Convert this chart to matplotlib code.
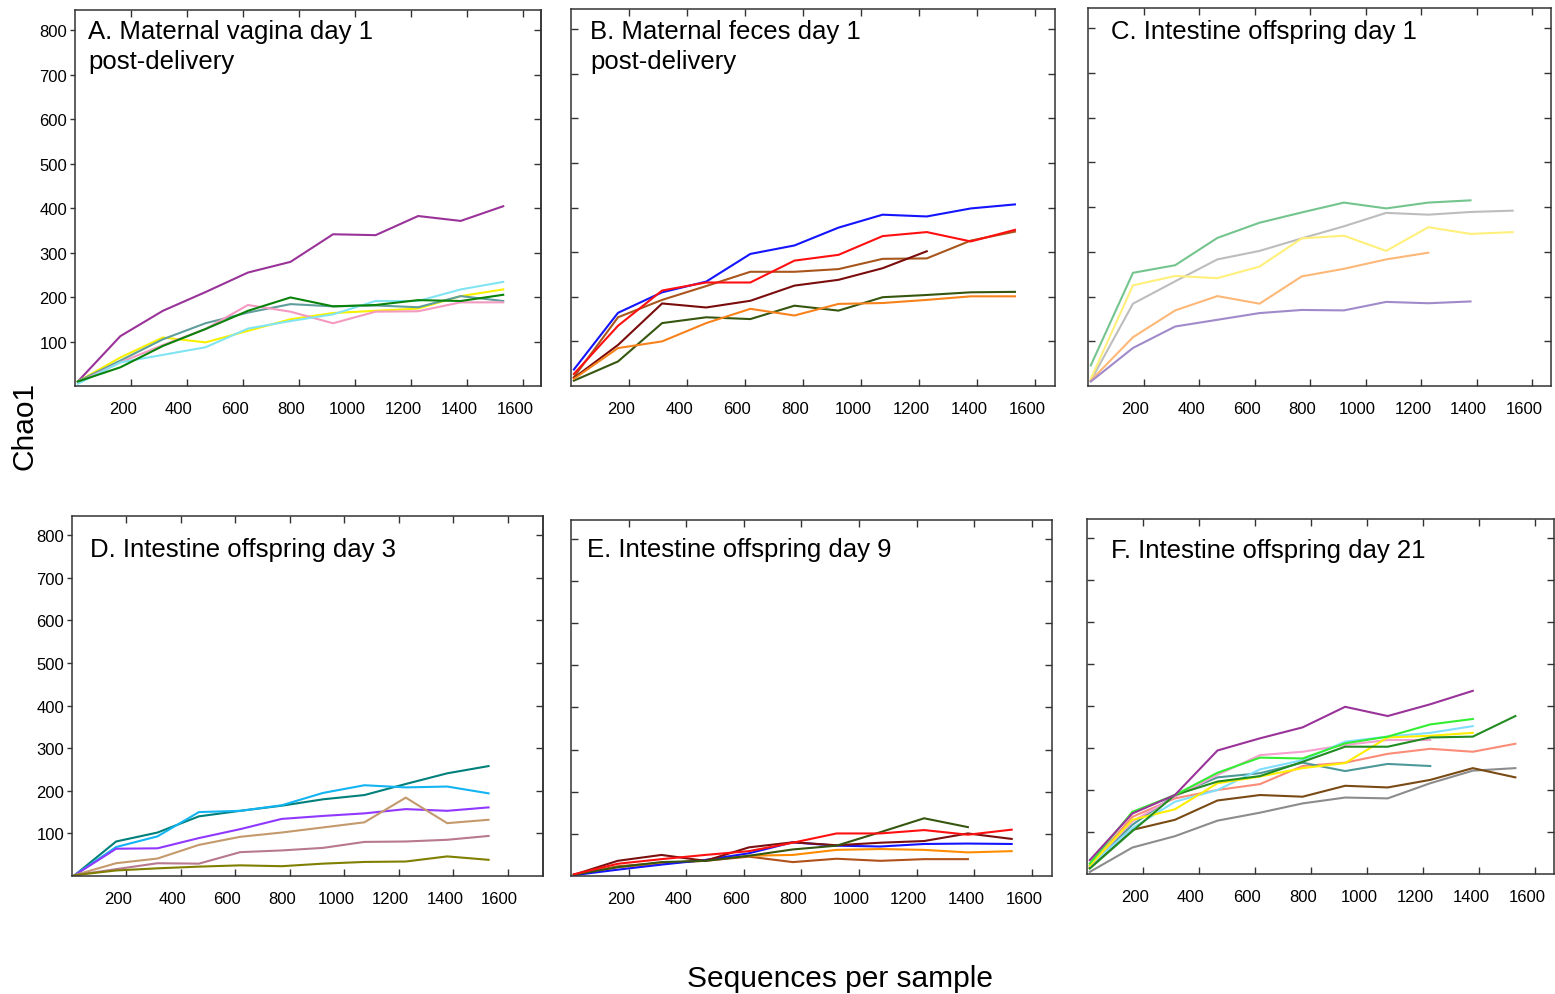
import matplotlib
matplotlib.use('Agg')
from matplotlib import pyplot as plt
from matplotlib.transforms import ScaledTranslation

plt.rcParams['font.family'] = ['Liberation Sans', 'DejaVu Sans']

W, H = 1555, 995

depths = [10, 162, 314, 466, 618, 770, 922, 1074, 1226, 1378, 1530]
xticks = [200, 400, 600, 800, 1000, 1200, 1400, 1600]
yticks = [100, 200, 300, 400, 500, 600, 700, 800]

# A. maternal vagina, day 1 post-delivery
vagina_d1 = [
    [10, 112, 169, 211, 255, 279, 341, 339, 382, 371, 404],
    [10, 64, 109, 98, 124, 150, 164, 169, 174, 202, 217],
    [10, 57, 105, 141, 165, 184, 179, 181, 177, 202, 191],
    [8, 53, 92, 128, 182, 167, 141, 167, 168, 188, 188],
    [5, 53, 70, 87, 129, 146, 161, 191, 191, 217, 234],
    [10, 42, 90, 128, 169, 199, 179, 182, 193, 191, 205],
]
vagina_colors = ['#993399', '#f7f100', '#5f9e9c', '#f49ac1', '#80e4f2', '#0a830a']

# B. maternal feces, day 1 post-delivery
feces_d1 = [
    [37, 164, 210, 234, 296, 315, 355, 384, 380, 398, 407],
    [20, 154, 193, 224, 256, 256, 262, 285, 286, 326, 346],
    [18, 92, 185, 176, 191, 225, 238, 264, 302],
    [12, 55, 141, 154, 150, 180, 169, 199, 204, 210, 211],
    [16, 85, 100, 141, 173, 158, 184, 186, 193, 201, 201],
    [27, 135, 214, 232, 232, 281, 294, 336, 345, 324, 350],
]
feces_colors = ['#1414ff', '#a8561c', '#7a0c0c', '#36560f', '#f7821c', '#ff1010']

# C. offspring intestine, day 1
gut_d1 = [
    [46, 253, 270, 331, 365, 388, 410, 397, 410, 415],
    [12, 184, 234, 283, 302, 330, 357, 387, 383, 389, 392],
    [16, 225, 246, 241, 267, 330, 336, 302, 355, 340, 344],
    [12, 109, 169, 201, 184, 245, 262, 283, 298],
    [10, 85, 133, 148, 163, 170, 169, 188, 185, 189],
]
gut_d1_colors = ['#74c48e', '#bdbdbd', '#fff07c', '#fdb878', '#a08aca']

# D. offspring intestine, day 3
gut_d3 = [
    [2, 81, 102, 140, 153, 165, 180, 190, 216, 241, 258],
    [2, 68, 93, 150, 153, 166, 195, 213, 208, 210, 194],
    [2, 64, 65, 89, 110, 134, 141, 147, 157, 153, 161],
    [2, 30, 41, 73, 92, 102, 114, 126, 184, 124, 132],
    [2, 16, 30, 29, 56, 60, 66, 80, 81, 85, 94],
    [2, 13, 18, 22, 25, 23, 29, 33, 34, 46, 38],
]
gut_d3_colors = ['#00807a', '#12b4f2', '#9038ff', '#c49a6c', '#b87890', '#7f7f00']

# E. offspring intestine, day 9
gut_d9 = [
    [3, 23, 31, 36, 46, 33, 41, 36, 40, 40],
    [2, 21, 29, 38, 48, 50, 62, 64, 62, 56, 59],
    [2, 15, 27, 38, 54, 80, 72, 70, 76, 77, 76],
    [3, 36, 50, 36, 68, 80, 73, 79, 83, 101, 88],
    [3, 21, 33, 36, 48, 63, 72, 104, 137, 116],
    [4, 29, 40, 50, 59, 79, 101, 101, 109, 98, 110],
]
gut_d9_colors = ['#b0501a', '#ff8c00', '#1414ff', '#7a1010', '#36560f', '#ff1010']

# F. offspring intestine, day 21
gut_d21 = [
    [5, 63, 90, 127, 146, 168, 182, 180, 216, 246, 252],
    [15, 105, 129, 175, 188, 184, 210, 206, 224, 252, 230],
    [20, 136, 180, 200, 214, 257, 265, 286, 298, 291, 310],
    [20, 117, 188, 230, 240, 265, 245, 262, 257],
    [20, 125, 184, 236, 283, 291, 307, 319, 319],
    [20, 109, 172, 200, 249, 271, 315, 327, 336, 352],
    [20, 129, 154, 216, 232, 252, 264, 325, 329, 336],
    [13, 102, 188, 220, 233, 267, 303, 303, 325, 327, 376],
    [25, 148, 188, 241, 277, 275, 311, 327, 356, 369],
    [33, 144, 188, 294, 323, 349, 398, 376, 404, 436],
]
gut_d21_colors = ['#8c8c8c', '#7a4a14', '#fa8c78', '#4d9999', '#f5a0d0',
                  '#80dfff', '#ffee00', '#228b22', '#33ee33', '#993399']

panels = [
    # data, colors, box (left, top, right, bottom px), xmax, title lines, title x, baselines, y labels
    (vagina_d1, vagina_colors, (75, 11, 541, 387), 1665,
     ['A. Maternal vagina day 1', 'post-delivery'], 88, [39, 69], True),
    (feces_d1, feces_colors, (571, 10, 1055, 387), 1668,
     ['B. Maternal feces day 1', 'post-delivery'], 590, [39, 69], False),
    (gut_d1, gut_d1_colors, (1088, 9, 1551, 387), 1668,
     ['C. Intestine offspring day 1'], 1111, [39], False),
    (gut_d3, gut_d3_colors, (72, 517, 543, 877), 1730,
     ['D. Intestine offspring day 3'], 90, [557], True),
    (gut_d9, gut_d9_colors, (571, 521, 1052, 877), 1670,
     ['E. Intestine offspring day 9'], 587, [557], False),
    (gut_d21, gut_d21_colors, (1087, 520, 1554, 875), 1668,
     ['F. Intestine offspring day 21'], 1111, [558], False),
]

fig = plt.figure(figsize=(W / 100, H / 100), dpi=100)
shift = ScaledTranslation(-0.08, 0, fig.dpi_scale_trans)

for data, colors, box, xmax, title, tx, ty, ylabels in panels:
    l, t, r, b = box
    ax = fig.add_axes([l / W, 1 - b / H, (r - l) / W, (b - t) / H])
    for vals, c in zip(data, colors):
        ax.plot(depths[:len(vals)], vals, color=c, lw=1.5, solid_joinstyle='miter')

    ax.set_xlim(0, xmax)
    ax.set_ylim(0, 845)
    ax.set_xticks(xticks)
    ax.set_yticks(yticks)
    for s in ax.spines.values():
        s.set_color('#333333')
        s.set_linewidth(1.1)

    ax.tick_params(axis='x', direction='in', top=True, length=5, width=1,
                   color='#333333', pad=11, labelsize=12)
    if ylabels:
        ax.tick_params(axis='y', direction='out', length=3.5, width=1,
                       color='#333333', pad=2, labelsize=12)
        right = ax.secondary_yaxis('right')
        right.set_yticks(yticks)
        right.tick_params(direction='in', length=5, width=1, color='#333333',
                          labelright=False)
        right.spines['right'].set_color('#333333')
        right.spines['right'].set_linewidth(1.1)
    else:
        ax.tick_params(axis='y', direction='in', right=True, length=5, width=1,
                       color='#333333', labelleft=False)

    for lab in ax.get_xticklabels():
        lab.set_transform(lab.get_transform() + shift)

    for line, y in zip(title, ty):
        fig.text(tx / W, 1 - y / H, line, fontsize=18.5, va='baseline', ha='left')

fig.text(840 / W, 1 - 987 / H, 'Sequences per sample', fontsize=21.5,
         ha='center', va='baseline')
fig.text(24 / W, 1 - 426 / H, 'Chao1', fontsize=21.5, rotation=90,
         ha='center', va='center')

fig.savefig('out.png', dpi=100)
